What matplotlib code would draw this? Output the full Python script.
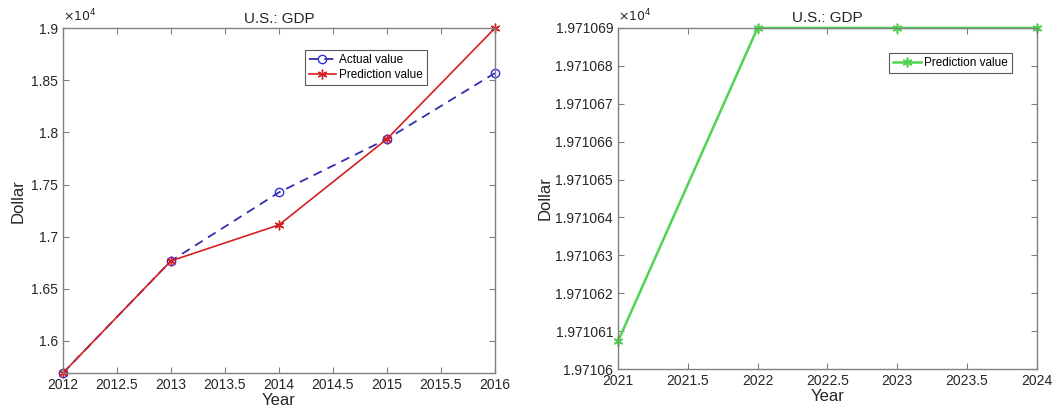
import matplotlib
matplotlib.use("Agg")
import matplotlib.pyplot as plt
from matplotlib.ticker import FuncFormatter

plt.rcParams['font.family'] = ['Liberation Sans', 'DejaVu Sans']

# left panel: 2012-2016
years_hist = [2012, 2013, 2014, 2015, 2016]
actual_hist = [15693, 16768, 17425, 17937, 18569]
pred_hist = [15693, 16768, 17113, 17937, 19000]

# right panel: 2021-2024 forecast
years_fut = [2021, 2022, 2023, 2024]
pred_fut = [19710.6073, 19710.69, 19710.69, 19710.69]

left_xticks = [2012, 2012.5, 2013, 2013.5, 2014, 2014.5, 2015, 2015.5, 2016]
left_yticks = [16000, 16500, 17000, 17500, 18000, 18500, 19000]
right_xticks = [2021, 2021.5, 2022, 2022.5, 2023, 2023.5, 2024]
right_yticks = [19710.60 + 0.01 * i for i in range(10)]

text_gray = '#262626'
asterisk = (6, 2, 0)  # matlab-style '*'


def style_axes(ax, ylab_pad):
    for sp in ax.spines.values():
        sp.set_color('#808080')
        sp.set_linewidth(1.0)
    ax.tick_params(direction='in', top=True, right=True, length=4,
                   colors='#808080', labelcolor=text_gray, labelsize=10)
    ax.set_xlabel('Year', fontsize=12, color=text_gray, labelpad=1)
    ax.set_ylabel('Dollar', fontsize=12, color=text_gray, labelpad=ylab_pad)
    ax.set_title('U.S.: GDP', fontsize=11, color=text_gray, pad=4)
    ax.text(0.0, 1.01, r'$\times 10^4$', transform=ax.transAxes,
            fontsize=9, color=text_gray, ha='left', va='bottom')


fig = plt.figure(figsize=(10.6, 4.17), dpi=100)

ax1 = fig.add_axes([0.0594, 0.1055, 0.4075, 0.827])
ax1.plot(years_hist, actual_hist, '--', marker='o', color='#2f2fb0',
         mec='#3030d8', mfc='none', lw=1.3, ms=6, dashes=(5, 3.5),
         clip_on=False, label='Actual value')
ax1.plot(years_hist, pred_hist, '-', marker=asterisk, color='#d42020', lw=1.2,
         ms=7, mew=1.0, clip_on=False, label='Prediction value')
ax1.set_xlim(2012, 2016)
ax1.set_ylim(15693, 19000)
ax1.set_xticks(left_xticks)
ax1.set_xticklabels([f'{v:g}' for v in left_xticks])
ax1.set_yticks(left_yticks)
ax1.yaxis.set_major_formatter(FuncFormatter(lambda v, p: f'{v / 1e4:g}'))
style_axes(ax1, 4)
leg1 = ax1.legend(loc='upper right', bbox_to_anchor=(0.857, 0.955), fontsize=8.5,
                  fancybox=False, edgecolor='#303030', handlelength=2.3,
                  borderpad=0.35, labelspacing=0.25, handletextpad=0.3,
                  numpoints=1)
leg1.get_frame().set_linewidth(0.8)

ax2 = fig.add_axes([0.583, 0.115, 0.395, 0.818])
ax2.plot(years_fut, pred_fut, '-', marker=asterisk, color='#4fd44f', lw=1.8,
         ms=7, mew=1.2, clip_on=False, label='Prediction value')
ax2.set_xlim(2021, 2024)
ax2.set_ylim(19710.60, 19710.69)
ax2.set_xticks(right_xticks)
ax2.set_xticklabels([f'{v:g}' for v in right_xticks])
ax2.set_yticks(right_yticks)
ax2.yaxis.set_major_formatter(FuncFormatter(lambda v, p: f'{v / 1e4:.7g}'))
style_axes(ax2, 2)
leg2 = ax2.legend(loc='upper right', bbox_to_anchor=(0.955, 0.945), fontsize=8.5,
                  fancybox=False, edgecolor='#303030', handlelength=2.3,
                  borderpad=0.35, labelspacing=0.25, handletextpad=0.3,
                  numpoints=1)
leg2.get_frame().set_linewidth(0.8)

fig.savefig('out.png', dpi=100)
